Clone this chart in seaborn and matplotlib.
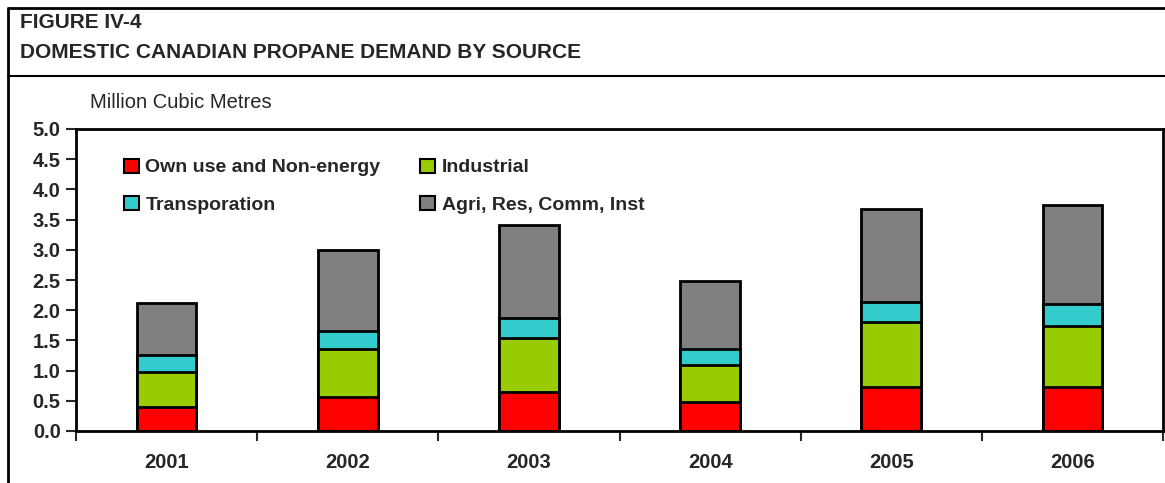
import matplotlib
matplotlib.use("Agg")
import matplotlib.pyplot as plt
import seaborn as sns
import pandas as pd
import numpy as np
from matplotlib.lines import Line2D
from matplotlib.patches import Patch

years = ["2001", "2002", "2003", "2004", "2005", "2006"]
own_use = [0.40, 0.56, 0.65, 0.48, 0.73, 0.73]
industrial = [0.58, 0.80, 0.89, 0.61, 1.07, 1.01]
transport = [0.28, 0.30, 0.33, 0.27, 0.34, 0.36]
agri = [0.86, 1.34, 1.54, 1.12, 1.54, 1.64]

series = ["Own use and Non-energy", "Industrial", "Transporation", "Agri, Res, Comm, Inst"]
colors = ["#ff0000", "#99cc00", "#33cccc", "#808080"]

sns.set_style("white")
plt.rcParams['font.family'] = ['Liberation Sans', 'DejaVu Sans']

df = pd.DataFrame({"year": years, series[0]: own_use, series[1]: industrial,
                   series[2]: transport, series[3]: agri})
cum = df[series].cumsum(axis=1)

fig = plt.figure(figsize=(11.65, 4.83), dpi=100)
ax = fig.add_axes([76 / 1165, 1 - 431 / 483, (1163 - 76) / 1165, (431 - 129) / 483])

# stacked bars: draw cumulative totals from the top down
for name, col in reversed(list(zip(series, colors))):
    sns.barplot(x=df["year"], y=cum[name], color=col, width=0.33, saturation=1,
                edgecolor="black", linewidth=2, ax=ax, zorder=2)

ax.set_ylim(0, 5)
ax.set_xlim(-0.5, 5.5)
ax.set_yticks(np.arange(0, 5.01, 0.5))
ax.set_yticklabels([f"{v:.1f}" for v in np.arange(0, 5.01, 0.5)],
                   fontsize=14.5, fontweight="bold")
ax.set_xticks(range(len(years)))
ax.set_xticklabels(years, fontsize=14.5, fontweight="bold")
ax.set_xticks(np.arange(-0.5, 5.6, 1), minor=True)
ax.tick_params(axis="x", which="major", length=0, pad=16, bottom=False)
ax.tick_params(axis="x", which="minor", length=7, width=1.5, direction="out", bottom=True)
ax.tick_params(axis="y", length=7, width=1.5, direction="out", pad=4, left=True)
ax.set_xlabel("")
ax.set_ylabel("")
for s in ax.spines.values():
    s.set_linewidth(2)
    s.set_color("black")

# legend fills row by row in the reference
order = [0, 2, 1, 3]
handles = [Patch(facecolor=colors[i], edgecolor="black", linewidth=1.5) for i in order]
labels = [series[i] for i in order]
ax.legend(handles, labels, ncol=2, frameon=False, loc="upper left",
          bbox_to_anchor=(0.028, 0.96), prop={"weight": "bold", "size": 14},
          handlelength=0.75, handleheight=0.75, handletextpad=0.35,
          columnspacing=2.05, labelspacing=1.0)

fig.text(90 / 1165, 1 - 103 / 483, "Million Cubic Metres", fontsize=14.5, va="center")
fig.text(20 / 1165, 1 - 22 / 483, "FIGURE IV-4", fontsize=15, fontweight="bold", va="center")
fig.text(20 / 1165, 1 - 53 / 483, "DOMESTIC CANADIAN PROPANE DEMAND BY SOURCE",
         fontsize=15, fontweight="bold", va="center")

fig.add_artist(Line2D([8 / 1165, 1], [1 - 8 / 483] * 2, color="black", lw=2))
fig.add_artist(Line2D([8 / 1165] * 2, [0, 1 - 8 / 483], color="black", lw=2))
fig.add_artist(Line2D([8 / 1165, 1], [1 - 76 / 483] * 2, color="black", lw=1.5))

fig.savefig("out.png", dpi=100)
